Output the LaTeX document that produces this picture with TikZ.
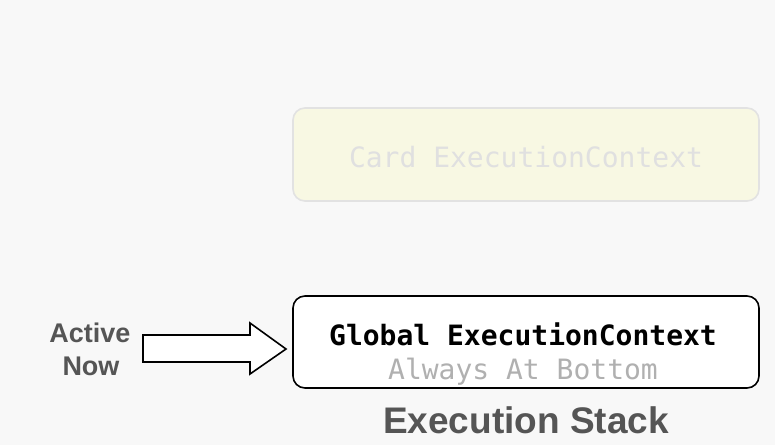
\documentclass[tikz,border=0pt]{standalone}
\usepackage{fontspec}
\setmainfont{Liberation Sans}
\newfontfamily\monof{DejaVu Sans Mono}
\usetikzlibrary{calc}
\definecolor{bgc}{HTML}{F8F8F8}
\definecolor{cardfill}{HTML}{F8F8E3}
\definecolor{cardline}{HTML}{E2E2E2}
\definecolor{cardtext}{HTML}{E0E0E0}
\definecolor{subtext}{HTML}{B0B0B0}
\definecolor{labeltext}{HTML}{555555}
\tikzset{
  ctxbox/.style={rounded corners=12pt, line width=1.6pt},
  monotext/.style={font=\monof\fontsize{28}{30}\selectfont, inner sep=0pt, anchor=center},
  sanslabel/.style={font=\bfseries\fontsize{27}{30}\selectfont, text=labeltext, inner sep=0pt, anchor=center}
}
\begin{document}
\begin{tikzpicture}[x=1pt,y=-1pt]
\fill[bgc] (0,0) rectangle (775,445);
\useasboundingbox (0,0) rectangle (775,445);
% card context (faded)
\draw[ctxbox, fill=cardfill, draw=cardline] (293,108) rectangle (759,201);
\node[monotext, text=cardtext] (card) at (526,157) {Card ExecutionContext};
% global context
\draw[ctxbox, fill=white, draw=black] (293,296) rectangle (759,388);
\coordinate (glob) at (293,349);
\node[monotext, font=\monof\bfseries\fontsize{28}{30}\selectfont, text=black] (globt) at (523,334) {Global ExecutionContext};
\node[monotext, text=subtext] (always) at (523,372) {Always At Bottom};
% labels
\node[sanslabel] (active) at (90,333) {Active};
\node[sanslabel] (now) at (91,366) {Now};
\node[sanslabel, font=\bfseries\fontsize{37}{40}\selectfont] (stack) at (526,420) {Execution Stack};
% block arrow
\draw[line width=1.6pt, fill=white, line join=miter]
  (143,335) -- (250,335) -- (250,323) -- (286,349) -- (250,374) -- (250,362) -- (143,362) -- cycle;
\end{tikzpicture}
\end{document}
